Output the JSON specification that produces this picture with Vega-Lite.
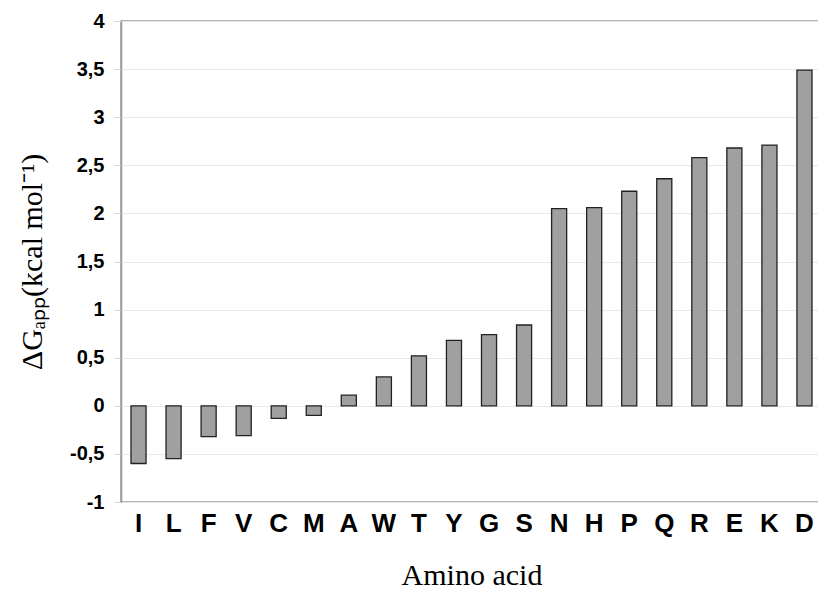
{
  "$schema": "https://vega.github.io/schema/vega-lite/v6.json",
  "width": 701,
  "height": 481,
  "autosize": "none",
  "padding": {"left": 121, "top": 21, "right": 0, "bottom": 94},
  "background": "white",
  "data": {
    "values": [
      {"aa": "I", "dg": -0.60},
      {"aa": "L", "dg": -0.55},
      {"aa": "F", "dg": -0.32},
      {"aa": "V", "dg": -0.31},
      {"aa": "C", "dg": -0.13},
      {"aa": "M", "dg": -0.10},
      {"aa": "A", "dg": 0.11},
      {"aa": "W", "dg": 0.30},
      {"aa": "T", "dg": 0.52},
      {"aa": "Y", "dg": 0.68},
      {"aa": "G", "dg": 0.74},
      {"aa": "S", "dg": 0.84},
      {"aa": "N", "dg": 2.05},
      {"aa": "H", "dg": 2.06},
      {"aa": "P", "dg": 2.23},
      {"aa": "Q", "dg": 2.36},
      {"aa": "R", "dg": 2.58},
      {"aa": "E", "dg": 2.68},
      {"aa": "K", "dg": 2.71},
      {"aa": "D", "dg": 3.49}
    ]
  },
  "mark": {"type": "bar", "color": "#a0a0a0", "stroke": "#222222", "strokeWidth": 1.3},
  "encoding": {
    "x": {
      "field": "aa",
      "type": "nominal",
      "sort": null,
      "scale": {"paddingInner": 0.57, "paddingOuter": 0.285},
      "axis": {
        "title": "Amino acid",
        "labelAngle": 0,
        "labelFont": "Liberation Sans",
        "labelFontWeight": "bold",
        "labelFontSize": 26,
        "labelColor": "black",
        "ticks": false,
        "domain": false,
        "grid": false,
        "labelPadding": 8,
        "titleFont": "Liberation Serif",
        "titleFontWeight": "normal",
        "titleFontSize": 30,
        "titleColor": "black",
        "titlePadding": 24
      }
    },
    "y": {
      "field": "dg",
      "type": "quantitative",
      "scale": {"domain": [-1, 4], "nice": false, "zero": false},
      "axis": {
        "values": [-1, -0.5, 0, 0.5, 1, 1.5, 2, 2.5, 3, 3.5, 4],
        "labelExpr": "replace(toString(datum.value), '.', ',')",
        "labelFont": "Liberation Sans",
        "labelFontWeight": "bold",
        "labelFontSize": 20,
        "labelColor": "black",
        "labelPadding": 10,
        "tickSize": 7,
        "tickColor": "#d8d8d8",
        "gridColor": "#e8e8e8",
        "gridWidth": 1.2,
        "domainColor": "#999999",
        "domainWidth": 1.5,
        "title": "ΔGₐₚₚ(kcal mol⁻¹)",
        "titleFont": "Liberation Serif",
        "titleFontWeight": "normal",
        "titleFontSize": 30,
        "titleColor": "black",
        "titlePadding": 22
      }
    }
  },
  "config": {"view": {"stroke": "#999999", "strokeWidth": 1.5}}
}
